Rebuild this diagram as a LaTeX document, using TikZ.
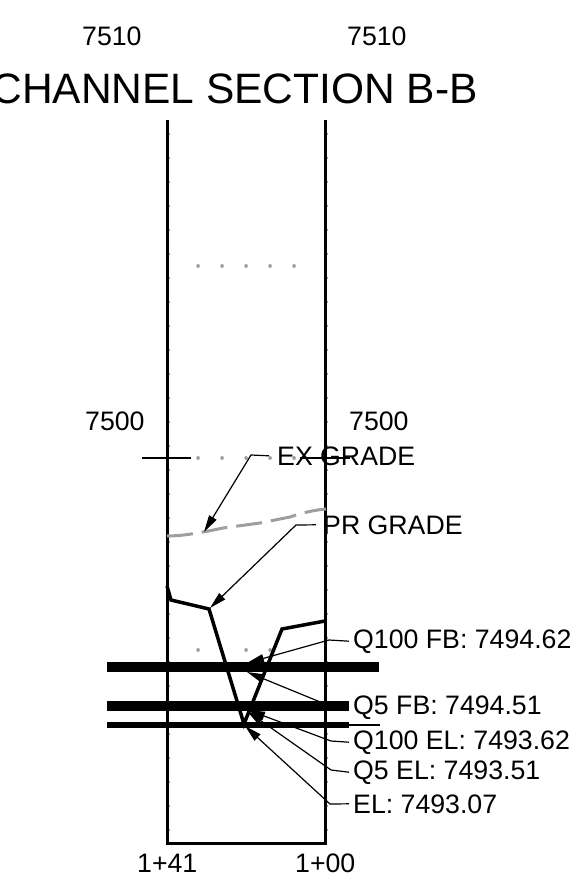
\documentclass[tikz,border=0pt]{standalone}
\usepackage{fontspec}
\setmainfont{Liberation Sans}
\usetikzlibrary{arrows.meta}
\colorlet{gradegray}{black!38}
\tikzset{
	lbl/.style={inner sep=0pt,anchor=base west,font=\fontsize{26.7}{30}\selectfont},
	leader/.style={line width=1.2pt,-{Triangle[length=17pt,width=8.5pt]}},
	wsel/.style={line width=#1},
	griddot/.style={gradegray,line width=3.5pt,line cap=round}
}
\begin{document}
\begin{tikzpicture}[x=1pt,y=-1pt]
		\useasboundingbox (0,0) rectangle (587,885);

		\foreach \y in {134,158,...,830} {
			\draw[gradegray,line width=2pt] (168,\y) -- (170,\y);
			\draw[gradegray,line width=2pt] (326,\y) -- (328,\y);
		}
		\foreach \x in {198,222,246,270,294} {
			\draw[griddot] (\x,266) -- +(0.1,0);
			\draw[griddot] (\x,458) -- +(0.1,0);
		}
		\foreach \x in {198,246,270} {
			\draw[griddot] (\x,650) -- +(0.1,0);
		}

		\draw[line width=3pt] (167,120) -- (167,843) -- (325,843) -- (325,120);
		\draw[line width=2.6pt] (142,458) -- (191,458);
		\draw[line width=2.6pt] (300,458) -- (350,458);

		\node[lbl] (top l) at (82,46) {7510};
		\node[lbl] (top r) at (347,46) {7510};
		\node[inner sep=0pt,anchor=base east,font=\fontsize{42.5}{46}\selectfont] (title) at (478,104) {CHANNEL SECTION B-B};
		\node[lbl] (mid l) at (85,430) {7500};
		\node[lbl] (mid r) at (349,430) {7500};
		\node[lbl] (sta l) at (137,872) {1+41};
		\node[lbl] (sta r) at (295,872) {1+00};

		\node[lbl] (ex) at (277,465) {EX GRADE};
		\node[lbl] (pr) at (323,534) {PR GRADE};
		\node[lbl] (q100fb) at (353,648) {Q100 FB: 7494.62};
		\node[lbl] (q5fb) at (353,714) {Q5 FB: 7494.51};
		\node[lbl] (q100el) at (353,749) {Q100 EL: 7493.62};
		\node[lbl] (q5el) at (353,779) {Q5 EL: 7493.51};
		\node[lbl] (el) at (353,813) {EL: 7493.07};

		\draw[gradegray,line width=3pt,dash pattern=on 26pt off 9pt] (167,536) .. controls (180,536) and (195,534) .. (223,528) -- (260,523) -- (290,517) .. controls (305,512) and (315,510) .. (326,509);
		\draw[line width=3.5pt,line join=miter] (167,586) -- (171,600) -- (209,609) -- (244,724) -- (282,629) -- (325,621);

		\draw[wsel=10pt] (107,667) -- (379,667);
		\draw[wsel=10pt] (107,706) -- (349,706);
		\draw[wsel=6pt] (107,725) -- (349,725);
		\draw[line width=1.2pt] (349,725) -- (380,725);

		\coordinate (ex tip) at (204,532);
		\coordinate (pr tip) at (210,608);
		\coordinate (q100fb tip) at (247,663);
		\coordinate (q5fb tip) at (247,672);
		\coordinate (q100el tip) at (248,710);
		\coordinate (q5el tip) at (247,711);
		\coordinate (el tip) at (245,726);

		\draw[leader] (ex.west) ++(-8,0) -- (251,455) -- (ex tip);
		\draw[leader] (pr.west) ++(-7,0) -- (296,525) -- (pr tip);
		\draw[leader] (q100fb.west) ++(-4,0) -- (329,640) -- (q100fb tip);
		\draw[leader] (q5fb.west) ++(-4,0) -- (330,706) -- (q5fb tip);
		\draw[leader] (q100el.west) ++(-4,0) -- (331,741) -- (q100el tip);
		\draw[leader] (q5el.west) ++(-4,0) -- (331,770) -- (q5el tip);
		\draw[leader] (el.west) ++(-4,0) -- (330,804) -- (el tip);
\end{tikzpicture}
\end{document}
